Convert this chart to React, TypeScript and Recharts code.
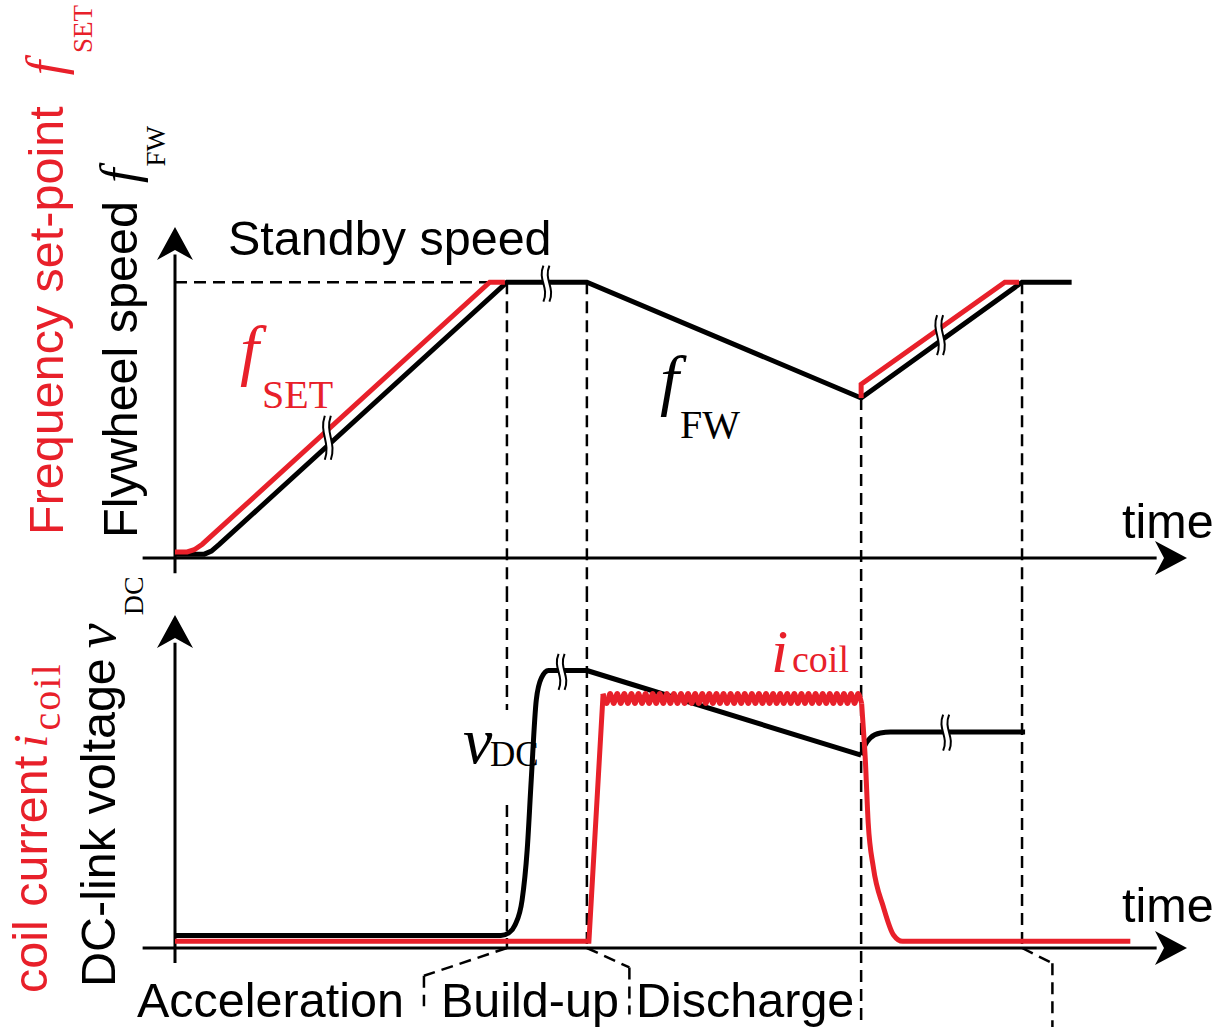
import React from 'react';
import { LineChart, Line, XAxis, YAxis, ReferenceLine, ReferenceDot } from 'recharts';

const RED = '#e8202a';
const SANS = '"Liberation Sans", Arial, sans-serif';
const SERIF = '"Liberation Serif", "Times New Roman", serif';

// time in arbitrary units, axis runs 0..100
const T_MAX = 100;
// phase edges: end of acceleration, end of build-up, end of discharge, end of recharge
const phaseEdges = [32.8, 40.7, 67.8, 83.7];

// flywheel speed f_FW (standby speed = 1)
const fFwT = [0, 2.9, 3.6, 4.4, 32.8, 40.7, 67.8, 83.7, 88.6];
const fFwV = [0.014, 0.014, 0.025, 0.05, 1.0, 1.0, 0.58, 1.0, 1.0];

// frequency set-point f_SET: acceleration ramp and recharge ramp
const fSetAccT = [0, 1.2, 1.9, 2.7, 31.1, 32.6];
const fSetAccV = [0.022, 0.022, 0.03, 0.05, 1.0, 1.0];
const fSetRechT = [67.8, 67.8, 82.0, 83.4];
const fSetRechV = [0.58, 0.63, 1.0, 1.0];

// DC-link voltage v_DC: charge-up, discharge slope, recovery
const vDcRiseT = [0, 32.2, 33.0, 33.6, 34.3, 34.8, 35.2, 35.7, 36.2, 36.9, 40.7];
const vDcRiseV = [0.045, 0.045, 0.055, 0.083, 0.173, 0.353, 0.605, 0.894, 0.973, 1.0, 1.0];
const vDcDisT = [40.7, 67.8];
const vDcDisV = [1.0, 0.695];
const vDcRecT = [67.8, 68.2, 68.7, 69.7, 70.7, 84.0];
const vDcRecV = [0.695, 0.732, 0.757, 0.775, 0.778, 0.778];

// coil current i_coil: build-up step, hysteresis ripple, decay
const iRiseT = [0, 40.9, 42.3];
const iRiseV = [0.024, 0.024, 0.915];
const rippleT = [
  42.3, 42.65, 43.0, 43.35, 43.7, 44.05, 44.4, 44.75, 45.1, 45.45,
  45.8, 46.15, 46.5, 46.85, 47.2, 47.55, 47.9, 48.25, 48.6, 48.95,
  49.3, 49.65, 50.0, 50.35, 50.7, 51.05, 51.4, 51.75, 52.1, 52.45,
  52.8, 53.15, 53.5, 53.85, 54.2, 54.55, 54.9, 55.25, 55.6, 55.95,
  56.3, 56.65, 57.0, 57.35, 57.7, 58.05, 58.4, 58.75, 59.1, 59.45,
  59.8, 60.15, 60.5, 60.85, 61.2, 61.55, 61.9, 62.25, 62.6, 62.95,
  63.3, 63.65, 64.0, 64.35, 64.7, 65.05, 65.4, 65.75, 66.1, 66.45,
  66.8, 67.15, 67.5, 67.85,
];
const rippleV = [
  0.917, 0.881, 0.917, 0.881, 0.917, 0.881, 0.917, 0.881, 0.917, 0.881,
  0.917, 0.881, 0.917, 0.881, 0.917, 0.881, 0.917, 0.881, 0.917, 0.881,
  0.917, 0.881, 0.917, 0.881, 0.917, 0.881, 0.917, 0.881, 0.917, 0.881,
  0.917, 0.881, 0.917, 0.881, 0.917, 0.881, 0.917, 0.881, 0.917, 0.881,
  0.917, 0.881, 0.917, 0.881, 0.917, 0.881, 0.917, 0.881, 0.917, 0.881,
  0.917, 0.881, 0.917, 0.881, 0.917, 0.881, 0.917, 0.881, 0.917, 0.881,
  0.917, 0.881, 0.917, 0.881, 0.917, 0.881, 0.917, 0.881, 0.917, 0.881,
  0.917, 0.881, 0.917, 0.881,
];
const iFallT = [67.85, 68.0, 68.2, 68.5, 69.0, 70.0, 71.0, 71.9, 94.4];
const iFallV = [0.881, 0.8, 0.688, 0.45, 0.292, 0.148, 0.047, 0.024, 0.024];

// axis breaks (t, value, height in px)
const topBreaks = [
  [15.1, 0.436, 44],
  [36.7, 0.995, 36],
  [75.6, 0.808, 40],
];
const bottomBreaks = [
  [38.2, 0.995, 36],
  [76.2, 0.776, 36],
];

const zip = (ts: number[], vs: number[]) => ts.map((t, i) => ({ t, v: vs[i] }));

const lineProps = {
  dataKey: 'v',
  dot: false,
  activeDot: false,
  isAnimationActive: false,
  strokeWidth: 5,
};

const dashProps = {
  stroke: '#000',
  strokeWidth: 2.5,
  strokeDasharray: '12 7',
  ifOverflow: 'visible' as const,
};

const axisProps = {
  stroke: '#000',
  strokeWidth: 3,
  ifOverflow: 'visible' as const,
};

const ArrowRight = (p: any) => (
  <path
    d={`M${p.cx},${p.cy} L${p.cx - 32},${p.cy - 17} L${p.cx - 23},${p.cy} L${p.cx - 32},${p.cy + 17} Z`}
    fill="#000"
  />
);

const ArrowUp = (p: any) => (
  <path
    d={`M${p.cx},${p.cy} L${p.cx - 18},${p.cy + 33} L${p.cx},${p.cy + 23} L${p.cx + 18},${p.cy + 33} Z`}
    fill="#000"
  />
);

const breakMark = (h: number) => (p: any) => {
  const { cx, cy } = p;
  const top = cy - h / 2;
  const bot = cy + h / 2;
  const s = (x: number) =>
    `M${x},${top} C${x - 6},${top + h * 0.4} ${x + 6},${top + h * 0.6} ${x},${bot}`;
  const gap =
    `M${cx - 3},${top} C${cx - 9},${top + h * 0.4} ${cx + 3},${top + h * 0.6} ${cx - 3},${bot} ` +
    `L${cx + 3},${bot} C${cx + 9},${top + h * 0.6} ${cx - 3},${top + h * 0.4} ${cx + 3},${top} Z`;
  return (
    <g>
      <path d={gap} fill="#fff" />
      <path d={s(cx - 3)} stroke="#000" strokeWidth={2} fill="none" />
      <path d={s(cx + 3)} stroke="#000" strokeWidth={2} fill="none" />
    </g>
  );
};

const layer: React.CSSProperties = { position: 'absolute', left: 0, top: 0 };

// speed panel
const SpeedChart = () => {
  const [tA, tB, tC, tD] = phaseEdges;
  const low = -0.116;
  return (
    <LineChart width={1223} height={1027} margin={{ top: 227, right: 36, bottom: 469, left: 175 }}>
      <XAxis dataKey="t" type="number" domain={[0, T_MAX]} hide />
      <YAxis type="number" domain={[0, 1.2]} hide />
      <ReferenceLine segment={[{ x: 0, y: 1 }, { x: tA, y: 1 }]} {...dashProps} />
      <ReferenceLine segment={[{ x: tA, y: 1 }, { x: tA, y: low }]} {...dashProps} />
      <ReferenceLine segment={[{ x: tB, y: 1 }, { x: tB, y: low }]} {...dashProps} />
      <ReferenceLine segment={[{ x: tC, y: 0.58 }, { x: tC, y: low }]} {...dashProps} />
      <ReferenceLine segment={[{ x: tD, y: 1 }, { x: tD, y: low }]} {...dashProps} />
      <ReferenceLine segment={[{ x: -3.2, y: 0 }, { x: 97, y: 0 }]} {...axisProps} />
      <ReferenceLine segment={[{ x: 0, y: -0.055 }, { x: 0, y: 1.1 }]} {...axisProps} />
      <Line {...lineProps} data={zip(fFwT, fFwV)} stroke="#000" />
      <Line {...lineProps} data={zip(fSetAccT, fSetAccV)} stroke={RED} />
      <Line {...lineProps} data={zip(fSetRechT, fSetRechV)} stroke={RED} />
      <ReferenceDot x={T_MAX} y={0} ifOverflow="visible" shape={ArrowRight} />
      <ReferenceDot x={0} y={1.2} ifOverflow="visible" shape={ArrowUp} />
      {topBreaks.map(([t, v, h], i) => (
        <ReferenceDot key={i} x={t} y={v} ifOverflow="visible" shape={breakMark(h)} />
      ))}
    </LineChart>
  );
};

// DC-link / coil current panel
const DcLinkChart = () => {
  const [tA, tB, tC, tD] = phaseEdges;
  const high = 1.29;
  return (
    <LineChart width={1223} height={1027} margin={{ top: 615, right: 36, bottom: 79, left: 175 }}>
      <XAxis dataKey="t" type="number" domain={[0, T_MAX]} hide />
      <YAxis type="number" domain={[0, 1.2]} hide />
      <ReferenceLine segment={[{ x: tA, y: high }, { x: tA, y: 0.858 }]} {...dashProps} />
      <ReferenceLine segment={[{ x: tA, y: 0.515 }, { x: tA, y: 0 }]} {...dashProps} />
      <ReferenceLine segment={[{ x: tA, y: 0 }, { x: 24.6, y: -0.1 }]} {...dashProps} />
      <ReferenceLine segment={[{ x: 24.6, y: -0.1 }, { x: 24.6, y: -0.21 }]} {...dashProps} />
      <ReferenceLine segment={[{ x: tB, y: high }, { x: tB, y: 0 }]} {...dashProps} />
      <ReferenceLine segment={[{ x: tB, y: 0 }, { x: 44.9, y: -0.07 }]} {...dashProps} />
      <ReferenceLine segment={[{ x: 44.9, y: -0.07 }, { x: 44.9, y: -0.24 }]} {...dashProps} />
      <ReferenceLine segment={[{ x: tC, y: high }, { x: tC, y: -0.3 }]} {...dashProps} />
      <ReferenceLine segment={[{ x: tD, y: high }, { x: tD, y: 0 }]} {...dashProps} />
      <ReferenceLine segment={[{ x: tD, y: 0 }, { x: 86.7, y: -0.055 }]} {...dashProps} />
      <ReferenceLine segment={[{ x: 86.7, y: -0.055 }, { x: 86.7, y: -0.3 }]} {...dashProps} />
      <ReferenceLine segment={[{ x: -3.2, y: 0 }, { x: 97, y: 0 }]} {...axisProps} />
      <ReferenceLine segment={[{ x: 0, y: -0.054 }, { x: 0, y: 1.1 }]} {...axisProps} />
      <Line {...lineProps} type="monotone" data={zip(vDcRiseT, vDcRiseV)} stroke="#000" />
      <Line {...lineProps} data={zip(vDcDisT, vDcDisV)} stroke="#000" />
      <Line {...lineProps} type="monotone" data={zip(vDcRecT, vDcRecV)} stroke="#000" />
      <Line {...lineProps} data={zip(iRiseT, iRiseV)} stroke={RED} />
      <Line {...lineProps} type="monotone" data={zip(rippleT, rippleV)} stroke={RED} />
      <Line {...lineProps} type="monotone" data={zip(iFallT, iFallV)} stroke={RED} />
      <ReferenceDot x={T_MAX} y={0} ifOverflow="visible" shape={ArrowRight} />
      <ReferenceDot x={0} y={1.2} ifOverflow="visible" shape={ArrowUp} />
      {bottomBreaks.map(([t, v, h], i) => (
        <ReferenceDot key={i} x={t} y={v} ifOverflow="visible" shape={breakMark(h)} />
      ))}
    </LineChart>
  );
};

const Labels = () => (
  <svg width={1223} height={1027} style={layer} fontFamily={SANS}>
    <text x={228} y={255} fontSize={48.5}>Standby speed</text>
    <text x={1122} y={538} fontSize={48.5}>time</text>
    <text x={1122} y={922} fontSize={48.5}>time</text>
    <text x={137} y={1017} fontSize={48.5}>Acceleration</text>
    <text x={441} y={1017} fontSize={48.5}>Build-up</text>
    <text x={636} y={1017} fontSize={48.5}>Discharge</text>

    <text fill={RED} fontFamily={SERIF}>
      <tspan x={240} y={373} fontStyle="italic" fontSize={68}>f</tspan>
      <tspan x={262} y={408} fontSize={40}>SET</tspan>
    </text>
    <text fontFamily={SERIF}>
      <tspan x={660} y={403} fontStyle="italic" fontSize={68}>f</tspan>
      <tspan x={680} y={438} fontSize={40}>FW</tspan>
    </text>
    <text fill={RED} fontFamily={SERIF}>
      <tspan x={771} y={672} fontStyle="italic" fontSize={62}>i</tspan>
      <tspan x={792} y={672} fontSize={38}>coil</tspan>
    </text>
    <text fontFamily={SERIF}>
      <tspan x={463} y={763} fontStyle="italic" fontSize={66}>v</tspan>
      <tspan x={490} y={766} fontSize={35}>DC</tspan>
    </text>

    <text transform="translate(63,535) rotate(-90)" fill={RED} fontSize={48.5}>
      <tspan>Frequency set-point</tspan>
      <tspan fontFamily={SERIF} fontStyle="italic" fontSize={52} dx={31}>f</tspan>
      <tspan fontFamily={SERIF} fontSize={27} dx={8} dy={29}>SET</tspan>
    </text>
    <text transform="translate(137,538) rotate(-90)" fontSize={48.5}>
      <tspan>Flywheel speed</tspan>
      <tspan fontFamily={SERIF} fontStyle="italic" fontSize={52} dx={18}>f</tspan>
      <tspan fontFamily={SERIF} fontSize={27} dx={2} dy={28}>FW</tspan>
    </text>
    <text transform="translate(47,993) rotate(-90)" fill={RED} fontSize={48.5}>
      <tspan>coil current</tspan>
      <tspan fontFamily={SERIF} fontStyle="italic" fontSize={48} dx={8}>i</tspan>
      <tspan fontFamily={SERIF} fontSize={40} letterSpacing={2} dx={4} dy={13}>coil</tspan>
    </text>
    <text transform="translate(115,987) rotate(-90)" fontSize={48.5}>
      <tspan>DC-link voltage</tspan>
      <tspan fontFamily={SERIF} fontStyle="italic" fontSize={56} dx={10}>v</tspan>
      <tspan fontFamily={SERIF} fontSize={28} dx={8} dy={28}>DC</tspan>
    </text>
  </svg>
);

export default function App() {
  return (
    <div style={{ ...layer, width: 1223, height: 1027, background: '#fff' }}>
      <div style={layer}>
        <SpeedChart />
      </div>
      <div style={layer}>
        <DcLinkChart />
      </div>
      <Labels />
    </div>
  );
}
